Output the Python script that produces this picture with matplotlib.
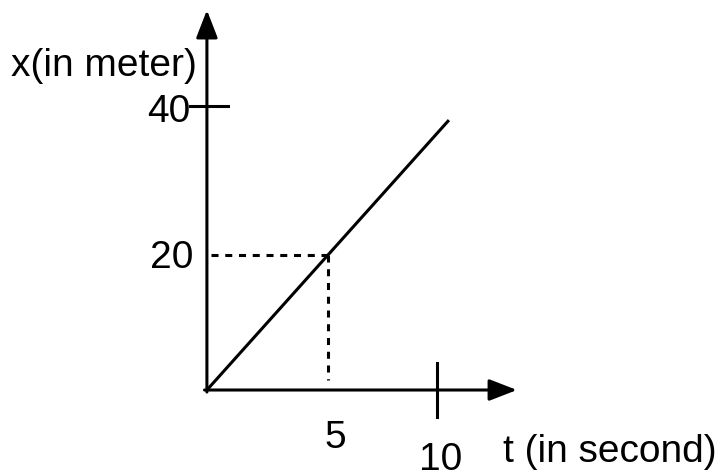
import matplotlib
matplotlib.use("Agg")
import matplotlib.pyplot as plt

plt.rcParams['font.family'] = ['Liberation Sans', 'DejaVu Sans']

# data (schematic x-t graph)
t_line = [0, 5, 10]
x_line = [0, 20, 40]
t_mark = 5
x_mark = 20
tick_t_label = "10"
tick_x_label = "40"
x_axis_title = "t (in second)"
y_axis_title = "x(in meter)"

fig = plt.figure(figsize=(7.19, 4.73), dpi=100)
ax = fig.add_axes([0, 0, 1, 1])
ax.set_xlim(-8.55, 21.16)
ax.set_ylim(-12.3, 57.8)
ax.axis('off')

lw = 2.2
# axes with arrows
ax.annotate('', xy=(12.81, 0), xytext=(-0.1, 0),
            arrowprops=dict(arrowstyle='-|>,head_length=0.85,head_width=0.33',
                            lw=lw, color='black', shrinkA=0, shrinkB=0,
                            mutation_scale=20))
ax.annotate('', xy=(0, 56.3), xytext=(0, -0.3),
            arrowprops=dict(arrowstyle='-|>,head_length=0.85,head_width=0.33',
                            lw=lw, color='black', shrinkA=0, shrinkB=0,
                            mutation_scale=20))

# main line
ax.plot(t_line, x_line, color='black', lw=lw, solid_capstyle='butt')

# dashed guides
ax.plot([0.15, t_mark], [x_mark, x_mark], color='black', lw=2.2,
        linestyle=(0, (2.3, 2.2)), dash_capstyle='butt')
ax.plot([t_mark, t_mark], [x_mark, 1.5], color='black', lw=2.2,
        linestyle=(0, (2.3, 2.2)), dash_capstyle='butt')

# tick marks (as drawn in the sketch)
ax.plot([-0.7, 0.87], [42.1, 42.1], color='black', lw=lw)
ax.plot([9.5, 9.5], [4.0, -4.0], color='black', lw=lw)

fs = 28
ax.text(-0.41, 46.5, y_axis_title, fontsize=fs, ha='right', va='baseline')
ax.text(-0.70, 39.7, tick_x_label, fontsize=fs, ha='right', va='baseline')
ax.text(-0.58, 18.07, str(x_mark), fontsize=fs, ha='right', va='baseline')
ax.text(5.29, -8.6, str(t_mark), fontsize=fs, ha='center', va='baseline')
ax.text(9.67, -11.85, tick_t_label, fontsize=fs, ha='center', va='baseline')
ax.text(12.23, -10.67, x_axis_title, fontsize=fs, ha='left', va='baseline')

fig.savefig('out.png', dpi=100)
